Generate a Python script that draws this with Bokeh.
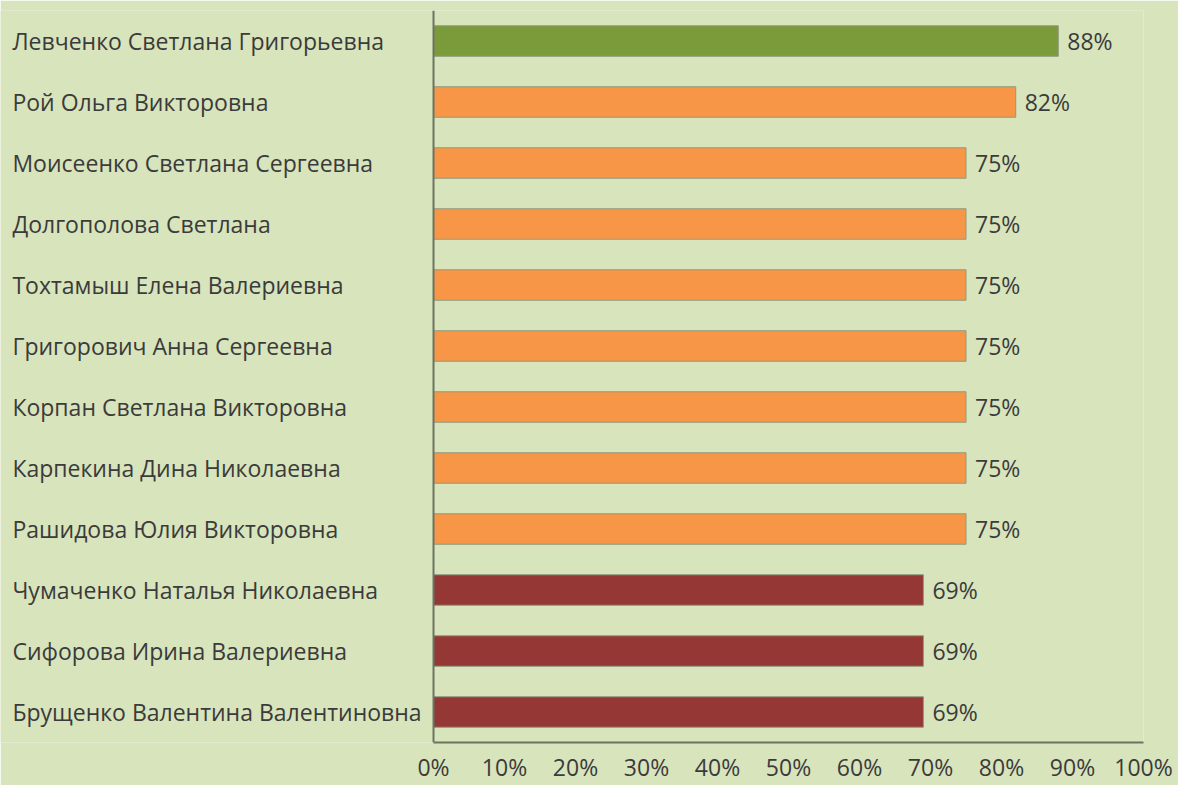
from bokeh.plotting import figure
from bokeh.models import Range1d, FactorRange, FixedTicker, NumeralTickFormatter, Span, ColumnDataSource
from bokeh.core.properties import value
from bokeh.embed import file_html
from bokeh.resources import INLINE

# ---- data (top to bottom) ----
names = [
    "Левченко Светлана Григорьевна",
    "Рой Ольга Викторовна",
    "Моисеенко Светлана Сергеевна",
    "Долгополова Светлана",
    "Тохтамыш Елена Валериевна",
    "Григорович Анна Сергеевна",
    "Корпан Светлана Викторовна",
    "Карпекина Дина Николаевна",
    "Рашидова Юлия Викторовна",
    "Чумаченко Наталья Николаевна",
    "Сифорова Ирина Валериевна",
    "Брущенко Валентина Валентиновна",
]
scores = [0.88, 0.82, 0.75, 0.75, 0.75, 0.75, 0.75, 0.75, 0.75, 0.69, 0.69, 0.69]
score_labels = ["88%", "82%", "75%", "75%", "75%", "75%", "75%", "75%", "75%", "69%", "69%", "69%"]
x_ticks = [0.0, 0.1, 0.2, 0.3, 0.4, 0.5, 0.6, 0.7, 0.8, 0.9, 1.0]

# ---- styles ----
GREEN = "#7b9a3a"
ORANGE = "#f79646"
RED = "#953735"
bar_colors = [GREEN, ORANGE, ORANGE, ORANGE, ORANGE, ORANGE, ORANGE, ORANGE, ORANGE, RED, RED, RED]
BG = "#d8e4bc"
TXT = "#3b3b3b"
AXIS = "#6b7363"
FONT = "Open Sans"
FS = "23px"

src = ColumnDataSource(dict(name=names, score=scores, lab=score_labels, color=bar_colors,
                            lx=[-0.5931] * len(names)))

p = figure(width=1178, height=785,
           x_range=Range1d(-0.6099, 1.0),
           y_range=FactorRange(factors=list(reversed(names))),
           y_axis_location=None,
           output_backend="svg", toolbar_location=None,
           min_border_left=0, min_border_right=35, min_border_top=10, min_border_bottom=42)

p.background_fill_color = BG
p.border_fill_color = BG
p.outline_line_color = None
p.grid.visible = False

p.hbar(y="name", right="score", left=0, height=0.5, source=src,
       fill_color="color", line_color="#8f9a80", line_width=1)

p.text(x="score", y="name", text="lab", source=src, x_offset=9,
       text_align="left", text_baseline="middle", text_color=TXT,
       text_font=value(FONT), text_font_size=FS)

p.text(x="lx", y="name", text="name", source=src,
       text_align="left", text_baseline="middle", text_color=TXT,
       text_font=value(FONT), text_font_size=FS)

p.add_layout(Span(location=0, dimension="height", line_color=AXIS, line_width=2))

xa = p.xaxis[0]
xa.ticker = FixedTicker(ticks=x_ticks)
xa.formatter = NumeralTickFormatter(format="0%")
xa.bounds = (0, 1)
xa.axis_line_color = AXIS
xa.axis_line_width = 2
xa.major_tick_line_color = None
xa.minor_tick_line_color = None
xa.major_tick_out = 0
xa.major_tick_in = 0
xa.major_label_standoff = 8
xa.major_label_text_font = FONT
xa.major_label_text_font_size = FS
xa.major_label_text_color = TXT
xa.major_label_text_font_style = "normal"

open("out.html", "w").write(file_html(p, INLINE))
